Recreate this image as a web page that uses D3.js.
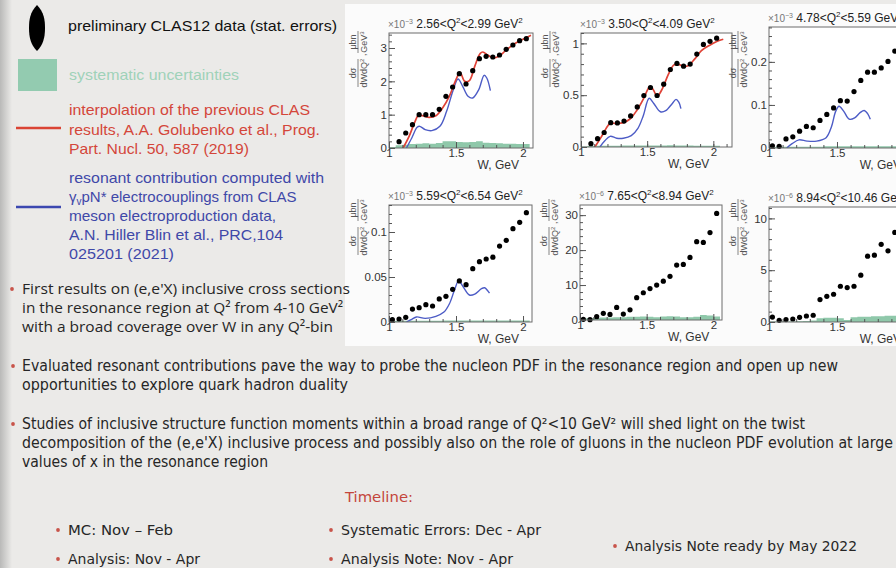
<!DOCTYPE html>
<html>
<head>
<meta charset="utf-8">
<script src="https://cdn.jsdelivr.net/npm/d3@7"></script>
<style>
  html, body { margin: 0; padding: 0; background: #ebeae8; }
  svg { display: block; }
</style>
</head>
<body>
<svg id="slide" width="896" height="568"></svg>
<script>
// ---------------------------------------------------------------
// Inclusive (e,e'X) cross sections, dσ/dWdQ² in six Q² bins
// ---------------------------------------------------------------

// W bin centres (GeV)
const wBins = [1.025, 1.075, 1.125, 1.175, 1.225, 1.275, 1.325, 1.375, 1.425, 1.475,
               1.525, 1.575, 1.625, 1.675, 1.725, 1.775, 1.825, 1.875, 1.925, 1.975, 2.025];

// Q² bin edges (GeV²) and the power of ten of each vertical axis
const q2Low  = ["2.56", "3.50", "4.78", "5.59", "7.65", "8.94"];
const q2High = ["2.99", "4.09", "5.59", "6.54", "8.94", "10.46"];
const yPower = ["-3", "-3", "-3", "-3", "-6", "-6"];

// measured cross sections (null = no measurement in that W bin)
const sigma1 = [null, 0.19, 0.45, 0.70, 1.00, 1.00, 1.00, 1.16, 1.55, 1.83, 2.23, 1.92, 2.32, 2.68, 2.75, 2.73, 2.79, 2.96, 3.09, 3.22, 3.28];
const sigma2 = [null, 0.032, 0.08, 0.14, 0.235, 0.232, 0.25, 0.30, 0.387, 0.497, 0.574, 0.497, 0.606, 0.748, 0.806, 0.78, 0.80, 0.897, 0.99, 1.02, 1.05];
const sigma3 = [0.005, 0.004, 0.021, 0.026, 0.039, 0.050, 0.047, 0.064, 0.078, 0.093, 0.110, 0.109, 0.131, 0.157, 0.176, 0.176, 0.186, 0.201, 0.225];
const sigma4 = [0.0026, 0.0033, 0.0052, 0.0144, 0.0159, 0.0193, 0.0178, 0.0256, 0.0285, 0.0363, 0.0456, 0.0415, 0.0593, 0.067, 0.070, 0.072, 0.0844, 0.0907, 0.1037, 0.1107, 0.1215];
const sigma5 = [0.2, 0.1, 0.95, 1.9, 1.6, 3.6, 1.7, 2.9, 6.4, 7.8, 9.0, 10.0, 11.1, 12.5, 15.7, 15.9, 17.9, 22.4, 22.2, 25.0, 30.5];
const sigma6 = [0.48, 0.16, 0.23, 0.29, 0.45, 0.58, 0.65, 2.16, 2.48, 2.68, 3.45, 3.32, 3.45, 4.52, 6.35, 6.45, 7.5, 6.87, 8.65];

// systematic uncertainties per W bin
const sys1 = [0.03, 0.08, 0.10, 0.12, 0.13, 0.14, 0.13, 0.15, 0.20, 0.20, 0.18, 0.17, 0.18, 0.20, 0.16, 0.15, 0.14, 0.13, 0.13, 0.12, 0.12];
const sys2 = [0.006, 0.010, 0.012, 0.012, 0.013, 0.013, 0.014, 0.014, 0.015, 0.015, 0.014, 0.014, 0.015, 0.016, 0.015, 0.014, 0.014, 0.013, 0.013, 0.013, 0.013];
const sys3 = [0.002, 0.003, 0.003, 0.003, 0.003, 0.003, 0.003, 0.003, 0.004, 0.004, 0.004, 0.004, 0.004, 0.004, 0.004, 0.004, 0.004, 0.004, 0.004];
const sys4 = [0.0012, 0.0013, 0.0014, 0.0014, 0.0014, 0.0015, 0.0015, 0.0015, 0.0016, 0.0016, 0.0016, 0.0016, 0.0017, 0.0017, 0.0017, 0.0017, 0.0017, 0.0017, 0.0018, 0.0018, 0.0018];
const sys5 = [0.4, 0.5, 0.6, 0.7, 0.7, 0.8, 0.8, 0.9, 0.9, 1.0, 0.9, 0.8, 1.0, 1.1, 1.0, 0.8, 0.8, 0.9, 1.4, 1.3, 1.0];
const sys6 = [0.05, 0.05, 0.05, 0.06, 0.08, 0.10, 0.15, 0.35, 0.40, 0.40, 0.35, 0.20, 0.45, 0.50, 0.50, 0.55, 0.55, 0.60, 0.60];

// interpolation of previous CLAS results: [W, dσ/dWdQ²]
const prevClas1 = [[1.105, 0], [1.15, 0.35], [1.19, 0.75], [1.22, 0.98], [1.25, 0.97], [1.30, 0.92], [1.35, 0.97],
                   [1.40, 1.20], [1.45, 1.55], [1.50, 2.05], [1.53, 2.27], [1.565, 2.0], [1.60, 2.02], [1.64, 2.45],
                   [1.68, 2.83], [1.70, 2.88], [1.74, 2.78], [1.78, 2.70], [1.82, 2.75], [1.87, 2.92], [1.92, 3.08],
                   [1.97, 3.20], [2.02, 3.30], [2.06, 3.38]];
const prevClas2 = [[1.105, 0], [1.15, 0.09], [1.20, 0.20], [1.22, 0.228], [1.26, 0.228], [1.32, 0.235], [1.37, 0.27],
                   [1.42, 0.35], [1.47, 0.46], [1.52, 0.58], [1.545, 0.555], [1.575, 0.49], [1.61, 0.55], [1.66, 0.70],
                   [1.70, 0.79], [1.73, 0.80], [1.77, 0.78], [1.81, 0.785], [1.86, 0.85], [1.91, 0.93], [1.97, 0.98],
                   [2.03, 1.02], [2.075, 1.04]];

// resonant contribution from γvpN* electrocouplings: [W, dσ/dWdQ²]
const resonant1 = [[1.13, 0], [1.17, 0.30], [1.21, 0.62], [1.23, 0.65], [1.27, 0.55], [1.32, 0.52], [1.38, 0.65],
                   [1.43, 1.10], [1.48, 1.75], [1.515, 2.07], [1.55, 1.85], [1.59, 1.55], [1.625, 1.50], [1.67, 1.75],
                   [1.71, 2.18], [1.73, 2.10], [1.757, 1.72]];
const resonant2 = [[1.143, 0], [1.18, 0.06], [1.22, 0.103], [1.27, 0.085], [1.32, 0.085], [1.38, 0.11], [1.43, 0.18],
                   [1.47, 0.30], [1.515, 0.47], [1.55, 0.42], [1.60, 0.34], [1.64, 0.35], [1.69, 0.42], [1.718, 0.46],
                   [1.74, 0.43], [1.755, 0.37]];
const resonant3 = [[1.13, 0], [1.17, 0.010], [1.22, 0.019], [1.28, 0.016], [1.35, 0.016], [1.42, 0.024], [1.46, 0.050],
                   [1.49, 0.085], [1.515, 0.097], [1.55, 0.085], [1.59, 0.067], [1.63, 0.070], [1.67, 0.082],
                   [1.70, 0.087], [1.725, 0.080], [1.745, 0.067]];
const resonant4 = [[1.13, 0], [1.17, 0.003], [1.205, 0.0056], [1.27, 0.004], [1.35, 0.0063], [1.41, 0.011], [1.45, 0.020],
                   [1.49, 0.036], [1.52, 0.046], [1.55, 0.040], [1.60, 0.030], [1.64, 0.031], [1.69, 0.037],
                   [1.714, 0.038], [1.735, 0.035], [1.75, 0.032]];

// axis tick labels
const wTicks = [1, 1.5, 2];
const yTicks1 = [0, 1, 2, 3];
const yTicks2 = [0, 0.5, 1];
const yTicks3 = [0, 0.1, 0.2];
const yTicks4 = [0, 0.05, 0.1];
const yTicks5 = [0, 10, 20, 30];
const yTicks6 = [0, 5, 10];

// ---------------------------------------------------------------
const COLORS = {
  red: "#df4236", blue: "#4d5cc6", sys: "#8fc8aa", frame: "#6d6d6d",
  tick: "#555", text: "#2a2a2a"
};

const svg = d3.select("#slide");
const defs = svg.append("defs");

// slide background with darker left margin
const grad = defs.append("linearGradient").attr("id", "leftEdge")
  .attr("x1", 0).attr("x2", 1).attr("y1", 0).attr("y2", 0);
grad.append("stop").attr("offset", 0).attr("stop-color", "#b9b9b8");
grad.append("stop").attr("offset", 1).attr("stop-color", "#ebeae8");
svg.append("rect").attr("width", 896).attr("height", 568).attr("fill", "#ebeae8");
svg.append("rect").attr("width", 12).attr("height", 568).attr("fill", "url(#leftEdge)");

// white sheet that carries the six plots
svg.append("rect").attr("x", 345).attr("y", 4).attr("width", 560).attr("height", 342).attr("fill", "#fbfbfb");

// panel geometry: frame in pixels and axis ranges
const panels = [
  { sigma: sigma1, sys: sys1, prev: prevClas1, res: resonant1, yTicks: yTicks1, x0: 389, x1: 533, y0: 33, y1: 148, wMax: 2.075, yMax: 3.45, minor: 17, row: 0 },
  { sigma: sigma2, sys: sys2, prev: prevClas2, res: resonant2, yTicks: yTicks2, x0: 581, x1: 732, y0: 33, y1: 147, wMax: 2.141, yMax: 1.10, minor: 10, row: 0 },
  { sigma: sigma3, sys: sys3, prev: null,      res: resonant3, yTicks: yTicks3, x0: 769, x1: 919, y0: 27, y1: 148, wMax: 2.103, yMax: 0.281, minor: 14, row: 0 },
  { sigma: sigma4, sys: sys4, prev: null,      res: resonant4, yTicks: yTicks4, x0: 389, x1: 532, y0: 205, y1: 322, wMax: 2.067, yMax: 0.130, minor: 13, row: 1 },
  { sigma: sigma5, sys: sys5, prev: null,      res: null,      yTicks: yTicks5, x0: 580, x1: 722, y0: 205, y1: 320, wMax: 2.065, yMax: 32.9, minor: 16, row: 1 },
  { sigma: sigma6, sys: sys6, prev: null,      res: null,      yTicks: yTicks6, x0: 769, x1: 919, y0: 207, y1: 322, wMax: 2.103, yMax: 11.1, minor: 11, row: 1 }
];

const FONT = "'Liberation Sans', Arial, Helvetica, sans-serif";

panels.forEach((p, i) => {
  const x = d3.scaleLinear().domain([1, p.wMax]).range([p.x0, p.x1]);
  const y = d3.scaleLinear().domain([0, p.yMax]).range([p.y1, p.y0]);
  const g = svg.append("g").attr("class", "panel");

  defs.append("clipPath").attr("id", "clip" + i)
    .append("rect").attr("x", p.x0).attr("y", p.y0)
    .attr("width", p.x1 - p.x0).attr("height", p.y1 - p.y0);

  g.append("rect").attr("x", p.x0).attr("y", p.y0)
    .attr("width", p.x1 - p.x0).attr("height", p.y1 - p.y0).attr("fill", "#ffffff");

  const inner = g.append("g").attr("clip-path", `url(#clip${i})`);

  // systematic uncertainty band (one step per W bin)
  const sysPts = p.sys.map((s, k) => [wBins[k] - 0.025, s]);
  sysPts.push([wBins[p.sys.length - 1] + 0.025, p.sys[p.sys.length - 1]]);
  inner.append("path").datum(sysPts)
    .attr("fill", COLORS.sys)
    .attr("d", d3.area().curve(d3.curveStepAfter)
      .x(d => x(d[0])).y0(y(0)).y1(d => y(d[1])));

  const smooth = d3.line().curve(d3.curveCatmullRom.alpha(0.5))
    .x(d => x(d[0])).y(d => y(d[1]));
  if (p.res) {
    inner.append("path").datum(p.res).attr("fill", "none")
      .attr("stroke", COLORS.blue).attr("stroke-width", 1.4).attr("d", smooth);
  }
  if (p.prev) {
    inner.append("path").datum(p.prev).attr("fill", "none")
      .attr("stroke", COLORS.red).attr("stroke-width", 1.7).attr("d", smooth);
  }

  // data points
  const pts = p.sigma.map((v, k) => [wBins[k], v]).filter(d => d[1] !== null);
  g.append("g").selectAll("circle").data(pts).join("circle")
    .attr("cx", d => x(d[0])).attr("cy", d => y(d[1])).attr("r", 2.6).attr("fill", "#000");

  // frame
  g.append("rect").attr("x", p.x0).attr("y", p.y0)
    .attr("width", p.x1 - p.x0).attr("height", p.y1 - p.y0)
    .attr("fill", "none").attr("stroke", COLORS.frame).attr("stroke-width", 1);

  // axes with inward ticks
  const styleAxis = sel => {
    sel.select(".domain").remove();
    sel.selectAll("line").attr("stroke", COLORS.tick);
    sel.selectAll("text").attr("font-family", FONT).attr("font-size", 11.5).attr("fill", "#333");
  };
  g.append("g").attr("transform", `translate(${p.x0},0)`)
    .call(d3.axisLeft(y).tickValues(y.ticks(p.minor)).tickSize(-3).tickFormat(""))
    .call(styleAxis);
  g.append("g").attr("transform", `translate(${p.x0},0)`)
    .call(d3.axisLeft(y).tickValues(p.yTicks).tickSize(-6).tickPadding(2).tickFormat(d => String(d)))
    .call(styleAxis);
  g.append("g").attr("transform", `translate(0,${p.y1})`)
    .call(d3.axisBottom(x).tickValues(x.ticks(10)).tickSize(-3).tickFormat(""))
    .call(styleAxis);
  g.append("g").attr("transform", `translate(0,${p.y1})`)
    .call(d3.axisBottom(x).tickValues(wTicks).tickSize(-6).tickPadding(1).tickFormat(d => String(d)))
    .call(styleAxis);

  // axis title W, GeV
  g.append("text").attr("x", x(2) - 4).attr("y", p.y1 + 21)
    .attr("text-anchor", "end").attr("font-family", FONT).attr("font-size", 12)
    .attr("fill", "#333").text("W, GeV");

  // panel title: ×10^n  a<Q²<b GeV²
  const t = g.append("text").attr("x", p.x0 - 1).attr("y", p.y0 - 5)
    .attr("font-family", FONT).attr("fill", "#222");
  t.append("tspan").attr("font-size", 10).attr("fill", "#777").text("×10");
  t.append("tspan").attr("font-size", 7).attr("fill", "#777").attr("dy", -4).text(yPower[i].replace("-", "−"));
  t.append("tspan").attr("font-size", 12).attr("dy", 4).text(" " + q2Low[i] + "<Q");
  t.append("tspan").attr("font-size", 8).attr("dy", -5).text("2");
  t.append("tspan").attr("font-size", 12).attr("dy", 5).text("<" + q2High[i] + " GeV");
  t.append("tspan").attr("font-size", 8).attr("dy", -5).text("2");

  // vertical axis title: dσ/dWdQ² , μbn/GeV³
  const lx = p.x0 - 31, ly = p.row === 0 ? 57 : 225;
  const yl = g.append("g").attr("transform", `translate(${lx},${ly}) rotate(-90)`)
    .attr("font-family", FONT).attr("font-size", 9).attr("fill", "#555");
  const frac = (cx, num, half) => {
    yl.append("line").attr("x1", cx - half).attr("x2", cx + half).attr("y1", 0).attr("y2", 0)
      .attr("stroke", "#555").attr("stroke-width", 0.7);
    yl.append("text").attr("x", cx).attr("y", -2).attr("text-anchor", "middle").text(num);
    return yl.append("text").attr("x", cx).attr("y", 9).attr("text-anchor", "middle");
  };
  const d1 = frac(-16, "dσ", 14);
  d1.append("tspan").text("dWdQ");
  d1.append("tspan").attr("font-size", 6).attr("dy", -3).text("2");
  yl.append("text").attr("x", 1).attr("y", 8).text(",");
  const d2 = frac(15, "μbn", 11);
  d2.append("tspan").text("GeV");
  d2.append("tspan").attr("font-size", 6).attr("dy", -3).text("3");
});

// ---------------------------------------------------------------
// legend
const leg = svg.append("g").attr("font-family", FONT).attr("font-size", 15);
leg.append("path").attr("fill", "#000")
  .attr("d", "M37,5 C44,12 45,20 45,28 C45,38 43,45 37,51 C31,45 29,38 29,28 C29,20 30,12 37,5 Z");
leg.append("text").attr("x", 68).attr("y", 31).attr("fill", "#111")
  .attr("textLength", 269).attr("lengthAdjust", "spacingAndGlyphs")
  .text("preliminary CLAS12 data (stat. errors)");

leg.append("rect").attr("x", 18).attr("y", 59).attr("width", 39).attr("height", 32).attr("fill", "#93cbb0");
leg.append("text").attr("x", 69).attr("y", 80).attr("fill", "#9fd2b9")
  .attr("textLength", 170).attr("lengthAdjust", "spacingAndGlyphs")
  .text("systematic uncertainties");

leg.append("line").attr("x1", 16).attr("x2", 61).attr("y1", 128).attr("y2", 128)
  .attr("stroke", "#da4434").attr("stroke-width", 2.4);
const redLines = ["interpolation of the previous CLAS", "results, A.A. Golubenko et al., Prog.", "Part. Nucl. 50, 587 (2019)"];
const redLens = [241, 251, 180];
redLines.forEach((s, k) => leg.append("text").attr("x", 69).attr("y", 115 + k * 19.5).attr("fill", "#d4463a")
  .attr("textLength", redLens[k]).attr("lengthAdjust", "spacingAndGlyphs").text(s));

leg.append("line").attr("x1", 16).attr("x2", 61).attr("y1", 207).attr("y2", 207)
  .attr("stroke", "#3c48b0").attr("stroke-width", 2.4);
const blueY = [183, 202, 221, 240, 259];
leg.append("text").attr("x", 69).attr("y", blueY[0]).attr("fill", "#3f48a8")
  .attr("textLength", 255).attr("lengthAdjust", "spacingAndGlyphs")
  .text("resonant contribution computed with");
const gv = leg.append("text").attr("x", 69).attr("y", blueY[1]).attr("fill", "#3f48a8");
gv.append("tspan").text("γ");
gv.append("tspan").attr("font-size", 10).attr("dy", 3).text("v");
gv.append("tspan").attr("dy", -3).text("pN* electrocouplings from CLAS");
const blueRest = ["meson electroproduction data,", "A.N. Hiller Blin et al., PRC,104", "025201 (2021)"];
const blueLens = [207, 214, 105];
blueRest.forEach((s, k) => leg.append("text").attr("x", 69).attr("y", blueY[k + 2]).attr("fill", "#3f48a8")
  .attr("textLength", blueLens[k]).attr("lengthAdjust", "spacingAndGlyphs").text(s));

// ---------------------------------------------------------------
// bullet text
const bullet = (cx, cy) => svg.append("circle").attr("cx", cx).attr("cy", cy).attr("r", 1.9).attr("fill", "#c8544a");
const line = (s, x, yb, len, fam, size, fill) => svg.append("text").attr("x", x).attr("y", yb)
  .attr("font-family", fam).attr("font-size", size).attr("fill", fill || "#262626")
  .attr("textLength", len).attr("lengthAdjust", "spacingAndGlyphs").text(s);

const SANS = "'Open Sans', 'Noto Sans', sans-serif";
bullet(12, 289);
line("First results on (e,e'X) inclusive cross sections", 22, 294, 328, SANS, 14.5);
line("in the resonance region at Q² from 4-10 GeV²", 22, 313, 321, SANS, 14.5);
line("with a broad coverage over W in any Q²-bin", 22, 332, 311, SANS, 14.5);

const NARROW = "'Liberation Sans Narrow', 'DejaVu Sans Condensed', sans-serif";
bullet(13, 366);
line("Evaluated resonant contributions pave the way to probe the nucleon PDF in the resonance region and open up new", 22, 371, 816, NARROW, 15);
line("opportunities to explore quark hadron duality", 22, 390, 326, NARROW, 15);
bullet(13, 424);
line("Studies of inclusive structure function moments within a broad range of Q²<10 GeV² will shed light on the twist", 22, 429, 783, NARROW, 15);
line("decomposition of the (e,e'X) inclusive process and possibly also on the role of gluons in the nucleon PDF evolution at large", 22, 448, 871, NARROW, 15);
line("values of x in the resonance region", 22, 467, 246, NARROW, 15);

// timeline
const TL = "'DejaVu Sans Condensed', 'DejaVu Sans', sans-serif";
line("Timeline:", 345, 502, 68, TL, 14, "#c4453b");
bullet(58, 530); line("MC: Nov – Feb", 68, 535, 105, TL, 14);
bullet(58, 559); line("Analysis: Nov - Apr", 68, 564, 132, TL, 14);
bullet(331, 530); line("Systematic Errors: Dec - Apr", 341, 535, 200, TL, 14);
bullet(331, 559); line("Analysis Note: Nov - Apr", 341, 564, 172, TL, 14);
bullet(615, 546); line("Analysis Note ready by May 2022", 625, 551, 232, TL, 14);
</script>
</body>
</html>
